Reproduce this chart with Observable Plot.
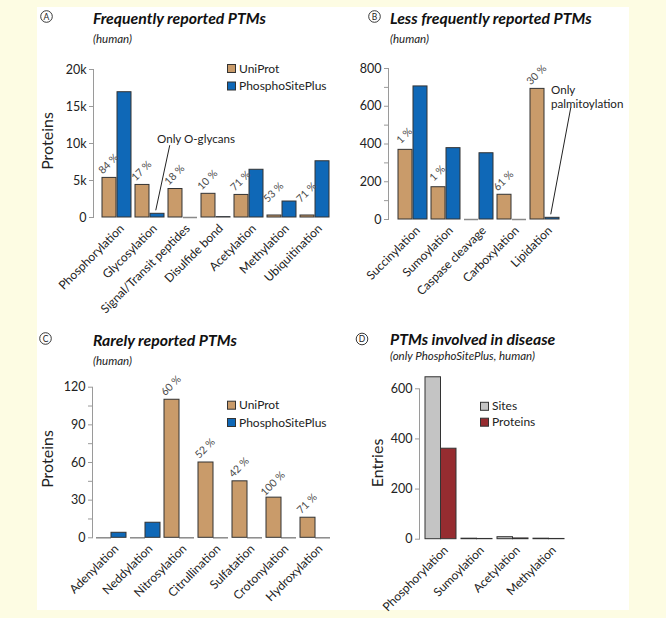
<!DOCTYPE html>
<html><head><meta charset="utf-8">
<script src="https://cdn.jsdelivr.net/npm/d3@7"></script>
<script src="https://cdn.jsdelivr.net/npm/@observablehq/plot@0.6"></script>
<style>
html,body{margin:0;padding:0;background:#fdfce3;}
#root{position:relative;width:666px;height:618px;background:#fdfce3;overflow:hidden;font-family:Lato,"Open Sans",sans-serif;}
#panel{position:absolute;left:37px;top:7px;width:592px;height:603px;background:#fff;}
.chart{position:absolute;}
#overlay{position:absolute;left:0;top:0;}
</style></head>
<body><div id="root"><div id="panel"></div></div>
<script>
// ---------- data ----------
const catsA = ["Phosphorylation","Glycosylation","Signal/Transit peptides","Disulfide bond","Acetylation","Methylation","Ubiquitination"];
const uniprotA = [5350, 4400, 3850, 3200, 3050, 270, 270];
const pspA = [16930, 500, 0, 50, 6450, 2160, 7600];
const pctA = ["84 %","17 %","18 %","10 %","71 %","53 %","71 %"];
const ticksA = [0, 5000, 10000, 15000, 20000];
const tickLabelsA = ["0","5k","10k","15k","20k"];

const catsB = ["Succinylation","Sumoylation","Caspase cleavage","Carboxylation","Lipidation"];
const uniprotB = [369, 171, 0, 131, 692];
const pspB = [705, 378, 351, 0, 9];
const pctB = ["1 %","1 %","","61 %","30 %"];
const ticksB = [0, 200, 400, 600, 800];
const tickLabelsB = ["0","200","400","600","800"];
const minorB = [100, 300, 500, 700];

const catsC = ["Adenylation","Neddylation","Nitrosylation","Citrullination","Sulfatation","Crotonylation","Hydroxylation"];
const uniprotC = [0, 0, 110, 60, 45, 32, 16];
const pspC = [4, 12, 0, 0, 0, 0, 0];
const pctC = ["","","60 %","52 %","42 %","100 %","71 %"];
const ticksC = [0, 30, 60, 90, 120];
const tickLabelsC = ["0","30","60","90","120"];
const minorC = [15, 45, 75, 105];

const catsD = ["Phosphorylation","Sumoylation","Acetylation","Methylation"];
const sitesD = [646, 2, 8, 2];
const proteinsD = [361, 1, 3, 1];
const ticksD = [0, 200, 400, 600];
const tickLabelsD = ["0","200","400","600"];

const seriesAC = ["UniProt","PhosphoSitePlus"];
const seriesD = ["Sites","Proteins"];
const panelLetters = ["A","B","C","D"];
const panelTitles = ["Frequently reported PTMs","Less frequently reported PTMs","Rarely reported PTMs","PTMs involved in disease"];
const panelSubtitles = ["(human)","(human)","(human)","(only PhosphoSitePlus, human)"];
const axisTitles = ["Proteins","","Proteins","Entries"];
const noteA = {cat: "Glycosylation", text: "Only O-glycans", y: 10700, bar: 500, tip: 9700};
const noteB = {cat: "Lipidation", text: "Only\npalmitoylation", y: 652, bar: 9, tip: 590};

// ---------- style ----------
const FONT = "Lato, 'Open Sans', sans-serif";
const C_UNI = "#c99b6a", C_PSP = "#0f68b7", C_SITES = "#c4c4c4", C_PROT = "#962c30";
const EDGE = "#333", AXIS = "#9a9a9a", INK = "#222";
const root = document.getElementById("root");

function barPanel(cfg) {
  const rows = cfg.cats.map((c, i) => ({cat: c, a: cfg.a[i], b: cfg.b[i], pct: cfg.pct ? cfg.pct[i] : ""}));
  const xs = Plot.scale({x: {type: "band", domain: cfg.cats, range: [cfg.ml, cfg.width - cfg.mr], paddingInner: cfg.pi, paddingOuter: cfg.po}});
  const half = xs.bandwidth / 2;
  const marks = [
    Plot.frame({anchor: "left", stroke: AXIS}),
    Plot.axisY({ticks: cfg.ticks, tickFormat: d => cfg.tickLabels[cfg.ticks.indexOf(d)], tickSize: 4, tickPadding: 3, stroke: AXIS, fill: INK, fontSize: 12.5, label: null})
  ];
  if (cfg.minor) marks.push(Plot.axisY({ticks: cfg.minor, tickFormat: () => "", tickSize: 4, stroke: AXIS, label: null}));
  marks.push(
    Plot.tickY(rows.filter(d => d.a === 0), {x: "cat", y: "a", stroke: "#8a8a8a", strokeWidth: 1.5, insetRight: half}),
    Plot.tickY(rows.filter(d => d.b === 0), {x: "cat", y: "b", stroke: "#8a8a8a", strokeWidth: 1.5, insetLeft: half}),
    Plot.barY(rows.filter(d => d.a > 0), {x: "cat", y: "a", fill: cfg.colA, stroke: EDGE, strokeWidth: 1, insetRight: half}),
    Plot.barY(rows.filter(d => d.b > 0), {x: "cat", y: "b", fill: cfg.colB, stroke: EDGE, strokeWidth: 1, insetLeft: half}),
    Plot.axisX({tickRotate: -45, tickSize: 0, tickPadding: 9, dx: 5, fontSize: 12, fill: INK, label: null})
  );
  if (cfg.pct) marks.push(Plot.text(rows.filter(d => d.pct), {x: "cat", y: d => Math.max(d.a, cfg.pctMin || 0), text: "pct", rotate: -45, dx: -half / 2 - 1, dy: -14, fontSize: 10.5, fill: "#4a4a4a"}));
  if (cfg.note) marks.push(Plot.text([cfg.note], {x: "cat", y: "y", text: "text", textAnchor: "start", lineAnchor: "middle", lineHeight: 1.22, dx: cfg.noteDx, fontSize: 11.6, fill: INK}));
  const plot = Plot.plot({
    width: cfg.width, height: cfg.height,
    marginLeft: cfg.ml, marginRight: cfg.mr, marginTop: cfg.mt, marginBottom: cfg.mb,
    x: {type: "band", domain: cfg.cats, paddingInner: cfg.pi, paddingOuter: cfg.po},
    y: {domain: cfg.ydomain},
    style: {fontFamily: FONT, fontSize: "12px", background: "none", overflow: "visible", color: INK},
    marks
  });
  plot.classList.add("chart");
  plot.style.left = cfg.left + "px";
  plot.style.top = cfg.top + "px";
  root.appendChild(plot);
  if (cfg.note) {
    const X = plot.scale("x"), Y = plot.scale("y");
    const bx = X.apply(cfg.note.cat) + X.bandwidth * 0.75;
    d3.select(plot).append("line")
      .attr("x1", bx - 1).attr("y1", Y.apply(cfg.note.bar) - 3)
      .attr("x2", bx + cfg.leadDx).attr("y2", Y.apply(cfg.note.tip))
      .attr("stroke", INK).attr("stroke-width", 1);
  }
  return plot;
}

barPanel({cats: catsA, a: uniprotA, b: pspA, pct: pctA, pctMin: 1500, colA: C_UNI, colB: C_PSP,
  ticks: ticksA, tickLabels: tickLabelsA, ydomain: [0, 20000],
  left: 37, top: 50, width: 301, height: 260, ml: 56, mr: 0, mt: 19, mb: 93, pi: 0.112, po: 0.1775,
  note: noteA, noteDx: 7, leadDx: 13});
barPanel({cats: catsB, a: uniprotB, b: pspB, pct: pctB, colA: C_UNI, colB: C_PSP,
  ticks: ticksB, tickLabels: tickLabelsB, minor: minorB, ydomain: [0, 800],
  left: 340, top: 50, width: 290, height: 260, ml: 48, mr: 61.2, mt: 18, mb: 91, pi: 0.11, po: 0.237,
  note: noteB, noteDx: 6, leadDx: 19});
barPanel({cats: catsC, a: uniprotC, b: pspC, pct: pctC, colA: C_UNI, colB: C_PSP,
  ticks: ticksC, tickLabels: tickLabelsC, minor: minorC, ydomain: [0, 120],
  left: 37, top: 370, width: 301, height: 240, ml: 55, mr: 4.3, mt: 16.7, mb: 72.7, pi: 0.119, po: 0.109});
barPanel({cats: catsD, a: sitesD, b: proteinsD, colA: C_SITES, colB: C_PROT,
  ticks: ticksD, tickLabels: tickLabelsD, ydomain: [0, 600],
  left: 340, top: 370, width: 290, height: 240, ml: 79, mr: 60.5, mt: 18.3, mb: 71.3, pi: 0.146, po: 0.146});

// ---------- headers, axis titles, legends ----------
const ov = d3.select(root).append("svg").attr("id", "overlay").attr("width", 666).attr("height", 618)
  .style("font-family", FONT).style("pointer-events", "none");
const heads = [
  {cx: 46.5, cy: 16.5, tx: 93, ty: 24, sy: 42.5},
  {cx: 374.5, cy: 16.5, tx: 390, ty: 24, sy: 42.5},
  {cx: 45.5, cy: 338.5, tx: 93, ty: 345.5, sy: 365},
  {cx: 362, cy: 339, tx: 390, ty: 345, sy: 359.5}
];
heads.forEach((h, i) => {
  ov.append("circle").attr("cx", h.cx).attr("cy", h.cy).attr("r", 5.8).attr("fill", "none").attr("stroke", INK).attr("stroke-width", 0.9);
  ov.append("text").attr("x", h.cx).attr("y", h.cy + 3).attr("text-anchor", "middle").attr("font-size", 8.5).attr("fill", INK).text(panelLetters[i]);
  ov.append("text").attr("x", h.tx).attr("y", h.ty).attr("font-size", 15.8).attr("font-weight", "bold").attr("font-style", "italic").attr("fill", "#111").text(panelTitles[i]);
  ov.append("text").attr("x", h.tx).attr("y", h.sy).attr("font-size", 11.5).attr("font-style", "italic").attr("fill", INK).text(panelSubtitles[i]);
});
const ytitles = [{x: 47, y: 141}, null, {x: 47.5, y: 459}, {x: 377.5, y: 463}];
ytitles.forEach((p, i) => {
  if (!p || !axisTitles[i]) return;
  ov.append("text").attr("transform", `translate(${p.x + 5.5},${p.y}) rotate(-90)`).attr("text-anchor", "middle")
    .attr("font-size", 16).attr("fill", INK).text(axisTitles[i]);
});
const legends = [
  {x: 227, y: [68, 85.5], names: seriesAC, colors: [C_UNI, C_PSP]},
  {x: 227, y: [404.7, 422], names: seriesAC, colors: [C_UNI, C_PSP]},
  {x: 480, y: [405.8, 421.7], names: seriesD, colors: [C_SITES, C_PROT]}
];
legends.forEach(l => l.names.forEach((n, j) => {
  ov.append("rect").attr("x", l.x + 0.5).attr("y", l.y[j] - 3.5).attr("width", 8).attr("height", 8).attr("fill", l.colors[j]).attr("stroke", EDGE).attr("stroke-width", 1);
  ov.append("text").attr("x", l.x + 12).attr("y", l.y[j] + 4.5).attr("font-size", 12).attr("fill", INK).text(n);
}));
</script></body></html>
